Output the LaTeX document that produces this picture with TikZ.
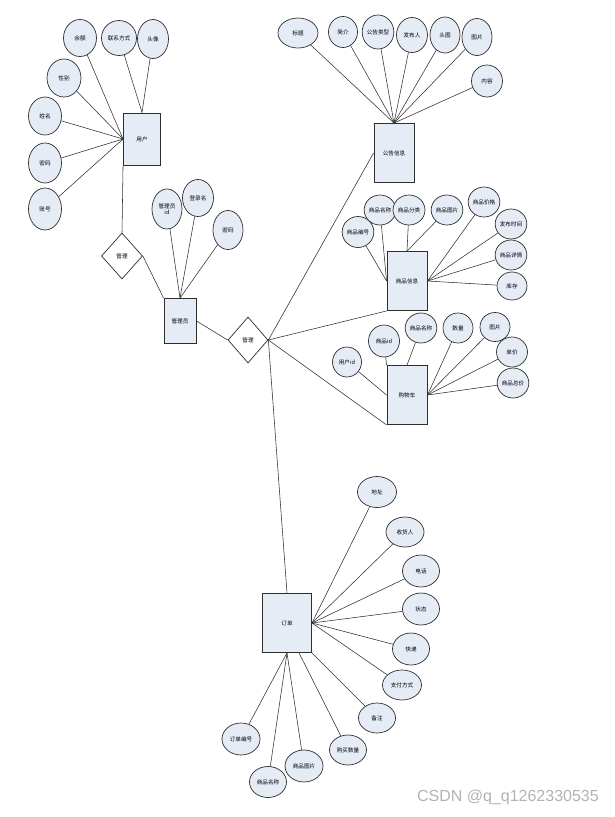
\documentclass[tikz,border=0pt]{standalone}
\usepackage{fontspec}
\setmainfont{Liberation Sans}
\newfontfamily\cjk{Noto Sans CJK SC}
\usetikzlibrary{shapes.geometric,backgrounds}
\definecolor{boxfill}{HTML}{E6ECF6}
\definecolor{edge}{HTML}{2E2E2E}
\begin{document}
\begin{tikzpicture}[x=1pt,y=-1pt,
  lbl/.style={font=\cjk\fontsize{5.6}{6.5}\selectfont},
  ent/.style={lbl,rectangle,draw=edge,fill=boxfill,line width=0.9pt,inner sep=0pt},
  att/.style={lbl,ellipse,draw=edge,fill=boxfill,line width=0.7pt,inner sep=0pt},
  rel/.style={lbl,diamond,draw=edge,fill=white,line width=0.7pt,inner sep=0pt},
  conn/.style={draw=edge,line width=0.55pt}]
\useasboundingbox (0,0) rectangle (614,817);

% entities
\node[ent,minimum width=37pt,minimum height=52pt] (user) at (142,139) {用户};
\node[ent,minimum width=32pt,minimum height=45pt] (admin) at (180,321) {管理员};
\node[ent,minimum width=40pt,minimum height=59pt] (notice) at (394,153) {公告信息};
\node[ent,minimum width=40pt,minimum height=59pt] (goods) at (407,281) {商品信息};
\node[ent,minimum width=40pt,minimum height=59pt] (cart) at (407,395) {购物车};
\node[ent,minimum width=49pt,minimum height=59pt] (order) at (287,623) {订单};

% relationships
\node[rel,minimum width=41pt,minimum height=46pt] (d1) at (122,256) {管理};
\node[rel,minimum width=40pt,minimum height=46pt] (d2) at (248,340) {管理};

% user attributes
\node[att,minimum width=33pt,minimum height=37pt] (u1) at (80,38) {余额};
\node[att,minimum width=35pt,minimum height=35pt] (u2) at (119,38) {联系方式};
\node[att,minimum width=31pt,minimum height=39pt] (u3) at (153,39) {头像};
\node[att,minimum width=34pt,minimum height=38pt] (u4) at (64,78) {性别};
\node[att,minimum width=33pt,minimum height=38pt] (u5) at (45,116) {姓名};
\node[att,minimum width=33pt,minimum height=40pt] (u6) at (45,163) {密码};
\node[att,minimum width=33pt,minimum height=42pt] (u7) at (45,209) {账号};

% admin attributes
\node[att,minimum width=30pt,minimum height=40pt,align=center] (m1) at (167,209) {管理员\\id};
\node[att,minimum width=31pt,minimum height=37pt] (m2) at (198,198) {登录名};
\node[att,minimum width=30pt,minimum height=39pt] (m3) at (228,230) {密码};

% notice attributes
\node[att,minimum width=40pt,minimum height=30pt] (a1) at (298,33) {标题};
\node[att,minimum width=29pt,minimum height=31pt] (a2) at (343,32) {简介};
\node[att,minimum width=30pt,minimum height=34pt] (a3) at (378,32) {公告类型};
\node[att,minimum width=31pt,minimum height=35pt] (a4) at (412,35) {发布人};
\node[att,minimum width=30pt,minimum height=36pt] (a5) at (445,35) {头图};
\node[att,minimum width=30pt,minimum height=37pt] (a6) at (477,37) {图片};
\node[att,minimum width=31pt,minimum height=32pt] (a7) at (487,81) {内容};

% goods attributes
\node[att,minimum width=30pt,minimum height=31pt] (p1) at (358,232) {商品编号};
\node[att,minimum width=30pt,minimum height=30pt] (p2) at (380,210) {商品名称};
\node[att,minimum width=32pt,minimum height=30pt] (p3) at (409,210) {商品分类};
\node[att,minimum width=30pt,minimum height=30pt] (p4) at (447,210) {商品图片};
\node[att,minimum width=31pt,minimum height=30pt] (p5) at (484,202) {商品价格};
\node[att,minimum width=31pt,minimum height=30pt] (p6) at (511,224) {发布时间};
\node[att,minimum width=31pt,minimum height=30pt] (p7) at (511,255) {商品详情};
\node[att,minimum width=30pt,minimum height=28pt] (p8) at (512,286) {库存};

% cart attributes
\node[att,minimum width=29pt,minimum height=30pt] (c1) at (347,362) {用户id};
\node[att,minimum width=31pt,minimum height=32pt] (c2) at (384,341) {商品id};
\node[att,minimum width=31pt,minimum height=30pt] (c3) at (421,328) {商品名称};
\node[att,minimum width=30pt,minimum height=30pt] (c4) at (458,328) {数量};
\node[att,minimum width=30pt,minimum height=29pt] (c5) at (495,327) {图片};
\node[att,minimum width=31pt,minimum height=30pt] (c6) at (512,352) {单价};
\node[att,minimum width=31pt,minimum height=30pt] (c7) at (513,383) {商品总价};

% order attributes
\node[att,minimum width=39pt,minimum height=31pt] (o1) at (377,492) {地址};
\node[att,minimum width=38pt,minimum height=30pt] (o2) at (405,532) {收货人};
\node[att,minimum width=37pt,minimum height=32pt] (o3) at (421,571) {电话};
\node[att,minimum width=37pt,minimum height=32pt] (o4) at (421,609) {状态};
\node[att,minimum width=37pt,minimum height=32pt] (o5) at (411,649) {快递};
\node[att,minimum width=39pt,minimum height=30pt] (o6) at (402,685) {支付方式};
\node[att,minimum width=37pt,minimum height=30pt] (o7) at (377,718) {备注};
\node[att,minimum width=38pt,minimum height=32pt] (o8) at (241,739) {订单编号};
\node[att,minimum width=37pt,minimum height=31pt] (o9) at (268,782) {商品名称};
\node[att,minimum width=38pt,minimum height=32pt] (o10) at (304,766) {商品图片};
\node[att,minimum width=37pt,minimum height=30pt] (o11) at (348,750) {购买数量};

% connectors behind the nodes
\begin{scope}[on background layer]
\foreach \a in {u1,u4,u5,u6,u7} \draw[conn] (\a) -- (user.west);
\foreach \a in {u2,u3} \draw[conn] (\a) -- (user.north);
\draw[conn] (user.south west) -- (d1.north);
\draw[conn] (d1.east) -- (admin.north west);
\foreach \a in {m1,m2,m3} \draw[conn] (\a) -- (admin.north);
\draw[conn] (admin.east) -- (d2.west);
\foreach \a in {a1,a2,a3,a4,a5,a6,a7} \draw[conn] (\a) -- (notice.north);
\foreach \a in {p1,p2} \draw[conn] (\a) -- (goods.west);
\foreach \a in {p3,p4} \draw[conn] (\a) -- (goods.north);
\foreach \a in {p5,p6,p7,p8} \draw[conn] (\a) -- (goods.east);
\draw[conn] (c1) -- (cart.west);
\draw[conn] (c2) -- (cart.north west);
\draw[conn] (c3) -- (cart.north);
\foreach \a in {c4,c5,c6,c7} \draw[conn] (\a) -- (cart.east);
\foreach \a in {o1,o2,o3,o4,o5,o6} \draw[conn] (\a) -- (order.east);
\draw[conn] (o7) -- (order.south east);
\foreach \a in {o8,o9,o10} \draw[conn] (\a) -- (order.south);
\draw[conn] (o11) -- ([xshift=12pt]order.south);
\draw[conn] (d2.east) -- (notice.west);
\draw[conn] (d2.east) -- (goods.south west);
\draw[conn] (d2.east) -- (cart.south west);
\draw[conn] (d2.east) -- (order.north);
\end{scope}

% watermark
\node[font=\fontsize{16}{18}\selectfont,text=black!30,anchor=east,inner sep=0pt] (wm) at (599,797) {CSDN @q\_q1262330535};
\end{tikzpicture}
\end{document}
